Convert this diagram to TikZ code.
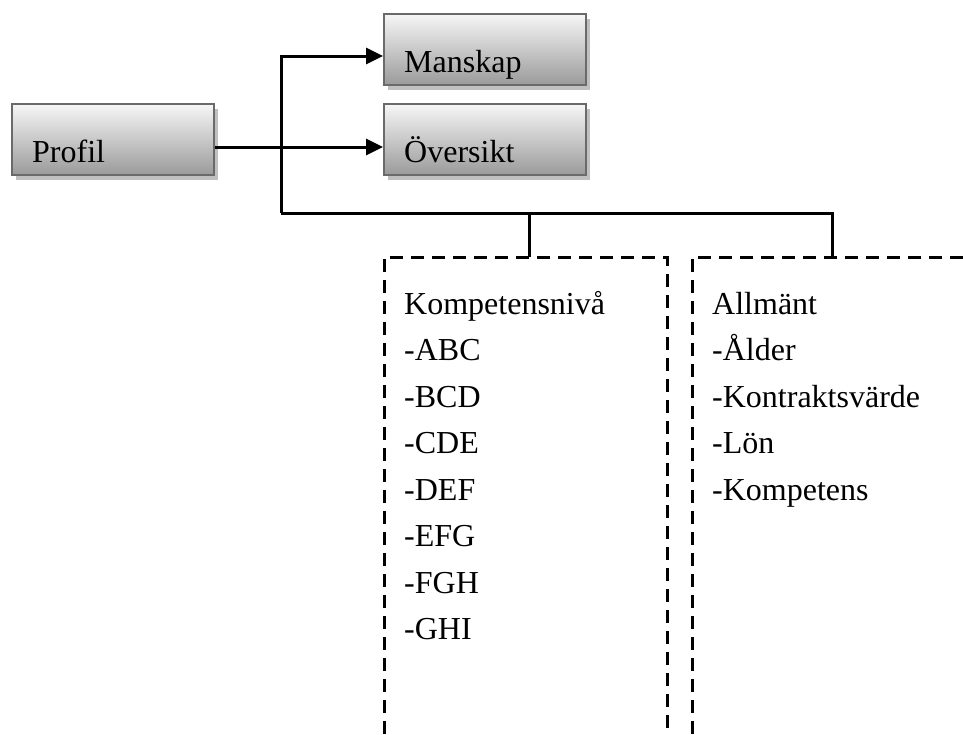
\documentclass[tikz,border=0pt]{standalone}
\usepackage{fontspec}
\setmainfont{Liberation Serif}
\usetikzlibrary{arrows.meta,shadows}
\definecolor{boxedge}{HTML}{6A6A6A}
\definecolor{boxtop}{HTML}{F6F6F6}
\definecolor{boxbot}{HTML}{9A9A9A}
\definecolor{shadowgray}{HTML}{C0C0C0}
\begin{document}
\begin{tikzpicture}[x=1pt,y=-1pt,
  menubox/.style={draw=boxedge, line width=2.4pt, top color=boxtop, bottom color=boxbot,
    minimum width=202pt, minimum height=71pt, anchor=north west, inner sep=0pt,
    drop shadow={shadow xshift=4pt, shadow yshift=-5pt, fill=shadowgray, opacity=1}},
  boxtext/.style={anchor=base west, inner sep=0pt, font=\fontsize{32}{36}\selectfont},
  listtext/.style={anchor=base west, inner sep=0pt, font=\fontsize{32}{36}\selectfont},
  conn/.style={line width=3pt, black},
  arr/.style={conn, -{Triangle[length=17pt,width=16pt]}},
  dashbox/.style={line width=3pt, dash pattern=on 13pt off 8pt, black}]
\useasboundingbox (0,0) rectangle (963,734);

% boxes
\node[menubox] (profil) at (11,103) {};
\node[menubox] (manskap) at (383,13) {};
\node[menubox] (oversikt) at (383,103) {};
\node[boxtext] (tprofil) at ([xshift=21pt,yshift=14pt]profil.south west) {Profil};
\node[boxtext] (tmanskap) at ([xshift=21pt,yshift=14pt]manskap.south west) {Manskap};
\node[boxtext] (toversikt) at ([xshift=21pt,yshift=14pt]oversikt.south west) {Översikt};

% dashed boxes (open at the bottom)
\coordinate (kompNW) at (384,257);
\coordinate (kompNE) at (667,257);
\coordinate (allmNW) at (692,257);
\draw[dashbox] (kompNW |- 0,734) -- (kompNW) -- (kompNE) -- (kompNE |- 0,734);
\draw[dashbox] (allmNW |- 0,734) -- (allmNW) -- (963,257);

% connectors
\coordinate (jA) at (281,147);
\coordinate (jM) at (281,56);
\coordinate (jB) at (281,213);
\coordinate (kompTop) at (529,257);
\coordinate (allmTop) at (832,257);
\draw[arr] (profil.east |- jA) -- (oversikt.west |- jA);
\draw[arr] (jB) -- (jM) -- (manskap.west |- jM);
\draw[conn] (jB) -- (jB -| allmTop) -- (allmTop);
\draw[conn] (jB -| kompTop) -- (kompTop);

% lists
\foreach \t [count=\i from 0] in {Kompetensnivå,-ABC,-BCD,-CDE,-DEF,-EFG,-FGH,-GHI}
  \node[listtext] (k\i) at (404,314+46.5*\i) {\t};
\foreach \t [count=\i from 0] in {Allmänt,-Ålder,-Kontraktsvärde,-Lön,-Kompetens}
  \node[listtext] (a\i) at (712,314+46.5*\i) {\t};
\end{tikzpicture}
\end{document}
